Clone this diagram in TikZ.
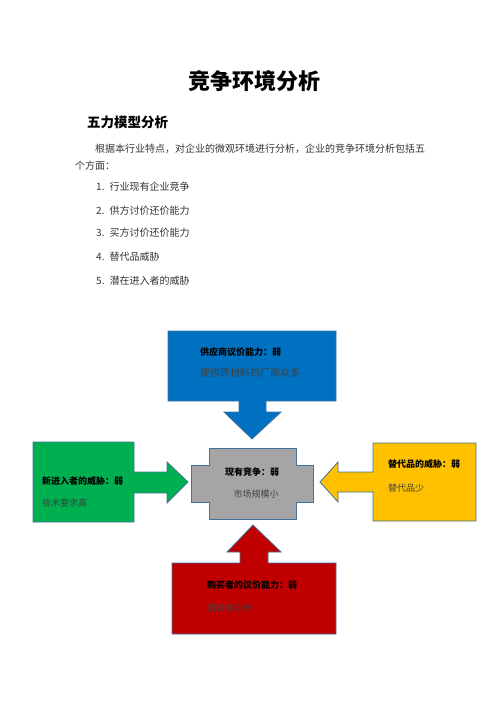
\documentclass[tikz,border=0pt]{standalone}
\usepackage{fontspec}
\setmainfont{Noto Sans CJK SC}
\newfontfamily\cjk{Noto Sans CJK SC}
\definecolor{forceblue}{HTML}{0070C0}
\definecolor{forcegreen}{HTML}{00B050}
\definecolor{forcegray}{HTML}{A5A5A5}
\definecolor{forceyellow}{HTML}{FFC000}
\definecolor{forcered}{HTML}{C00000}
\definecolor{edgeblue}{HTML}{41719C}
\definecolor{bodygray}{HTML}{404040}
\begin{document}
\begin{tikzpicture}[x=1pt,y=-1pt,
  shapeline/.style={draw=edgeblue,line width=0.8pt,line join=miter},
  headtxt/.style={anchor=west,inner sep=0pt,font=\cjk\bfseries\fontsize{9}{10}\selectfont},
  bodytxt/.style={anchor=west,inner sep=0pt,text=bodygray,font=\cjk\fontsize{9}{10}\selectfont},
  listtxt/.style={anchor=west,inner sep=0pt,text=black!80,font=\cjk\fontsize{10}{12}\selectfont}]
\useasboundingbox (0,0) rectangle (496,702);

% title and text
\node[inner sep=0pt,font=\cjk\bfseries\fontsize{22}{26}\selectfont] (title) at (254,81) {竞争环境分析};
\node[anchor=west,inner sep=0pt,font=\cjk\bfseries\fontsize{13.5}{16}\selectfont] (heading) at (87,122) {五力模型分析};
\node[listtxt] (para1) at (95,149) {根据本行业特点，对企业的微观环境进行分析，企业的竞争环境分析包括五};
\node[listtxt] (para2) at (75,166) {个方面：};
\node[listtxt] (item1) at (96,187) {1.\hspace{5pt}行业现有企业竞争};
\node[listtxt] (item2) at (96,211) {2.\hspace{5pt}供方讨价还价能力};
\node[listtxt] (item3) at (96,233) {3.\hspace{5pt}买方讨价还价能力};
\node[listtxt] (item4) at (96,257) {4.\hspace{5pt}替代品威胁};
\node[listtxt] (item5) at (96,281) {5.\hspace{5pt}潜在进入者的威胁};

% supplier
\draw[shapeline,fill=forceblue] (168,331) -- (336,331) -- (336,401) -- (266,401) -- (266,412)
  -- (281,412) -- (252,439) -- (224,412) -- (239,412) -- (239,401) -- (168,401) -- cycle;
\node[headtxt] (supplyhead) at (200,352) {供应商议价能力：弱};
\node[bodytxt,font=\cjk\fontsize{10}{12}\selectfont] (supplybody) at (200,373) {提供原材料的厂商众多};

% new entrants
\draw[shapeline,fill=forcegreen] (33,442) -- (134,442) -- (134,472) -- (167,472) -- (167,462)
  -- (188,482) -- (167,503) -- (167,493) -- (134,493) -- (134,522) -- (33,522) -- cycle;
\node[headtxt] (entryhead) at (42,481) {新进入者的威胁：弱};
\node[bodytxt] (entrybody) at (42,503) {技术要求高};

% rivalry
\draw[shapeline,fill=forcegray] (209,448) -- (296,448) -- (296,465) -- (313,465) -- (313,502)
  -- (296,502) -- (296,519) -- (209,519) -- (209,502) -- (191,502) -- (191,465) -- (209,465) -- cycle;
\node[headtxt,anchor=center] (rivalhead) at (252,472) {现有竞争：弱};
\node[bodytxt,anchor=center] (rivalbody) at (256,494) {市场规模小};

% substitutes
\draw[shapeline,fill=forceyellow] (373,443) -- (476,443) -- (476,521) -- (373,521) -- (373,492)
  -- (338,492) -- (338,502) -- (320,482) -- (338,462) -- (338,472) -- (373,472) -- cycle;
\node[headtxt] (subhead) at (388,464) {替代品的威胁：弱};
\node[bodytxt] (subbody) at (388,488) {替代品少};

% buyers
\draw[shapeline,fill=forcered] (172,563) -- (240,563) -- (240,552) -- (227,552) -- (253,525)
  -- (281,552) -- (268,552) -- (268,563) -- (336,563) -- (336,634) -- (172,634) -- cycle;
\node[headtxt] (buyhead) at (207,585) {购买者的议价能力：弱};
\node[bodytxt] (buybody) at (207,608) {消费者众多};
\end{tikzpicture}
\end{document}
